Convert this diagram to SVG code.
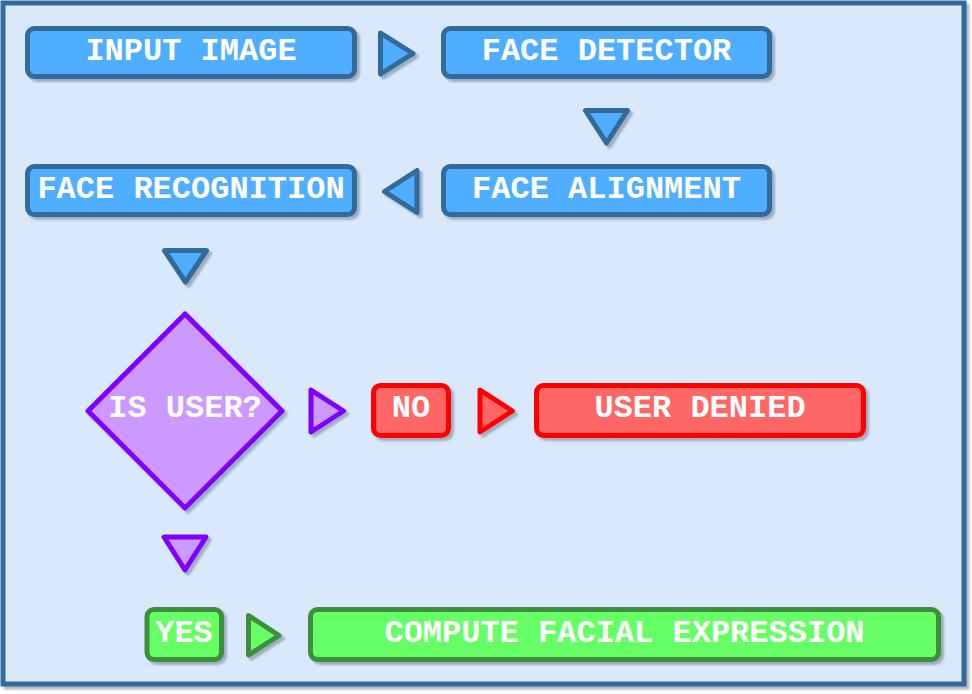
<svg xmlns="http://www.w3.org/2000/svg" width="972" height="694" viewBox="0 0 972 694">
<defs>
<filter id="sh" x="-10%" y="-10%" width="130%" height="140%">
<feDropShadow dx="3" dy="3" stdDeviation="1.2" flood-color="#556677" flood-opacity="0.45"/>
</filter>
<style>
.blue{fill:#4FAEFF;stroke:#316A99;stroke-width:5;stroke-linejoin:round}
.purple{fill:#CC99FF;stroke:#8000FF;stroke-width:5;stroke-linejoin:round}
.red{fill:#FF6666;stroke:#FF0000;stroke-width:5;stroke-linejoin:round}
.green{fill:#66FF66;stroke:#3D8F3A;stroke-width:5;stroke-linejoin:round}
.t{font-family:"Liberation Mono","Courier New",monospace;font-weight:bold;font-size:32px;fill:#FFFFFF;text-anchor:middle}
</style>
</defs>
<rect x="3" y="3" width="961" height="681" fill="#D9E8FA" stroke="#316A99" stroke-width="5" filter="url(#sh)"/>
<g id="input-image"><rect class="blue" x="27.5" y="28.5" width="327" height="48" rx="7" filter="url(#sh)"/><text class="t" x="191" y="60">INPUT IMAGE</text></g>
<g id="face-detector"><rect class="blue" x="443.5" y="28.5" width="326" height="48" rx="7" filter="url(#sh)"/><text class="t" x="606.5" y="60">FACE DETECTOR</text></g>
<g id="face-alignment"><rect class="blue" x="443.5" y="166.5" width="326" height="48" rx="7" filter="url(#sh)"/><text class="t" x="606.5" y="198">FACE ALIGNMENT</text></g>
<g id="face-recognition"><rect class="blue" x="27.5" y="166.5" width="327" height="48" rx="7" filter="url(#sh)"/><text class="t" x="191" y="198">FACE RECOGNITION</text></g>
<g id="is-user"><polygon class="purple" points="185,314 282,411 185,508 88,411" filter="url(#sh)"/><text class="t" x="185" y="417">IS USER?</text></g>
<g id="no"><rect class="red" x="373.5" y="385.5" width="75" height="50" rx="7" filter="url(#sh)"/><text class="t" x="411" y="417">NO</text></g>
<g id="user-denied"><rect class="red" x="536.5" y="385.5" width="327" height="50" rx="7" filter="url(#sh)"/><text class="t" x="700" y="417">USER DENIED</text></g>
<g id="yes"><rect class="green" x="147" y="609.5" width="74.5" height="50" rx="7" filter="url(#sh)"/><text class="t" x="184" y="642">YES</text></g>
<g id="compute"><rect class="green" x="310.5" y="609.5" width="628" height="50" rx="7" filter="url(#sh)"/><text class="t" x="624.5" y="642">COMPUTE FACIAL EXPRESSION</text></g>
<g id="connectors">
<polygon class="blue" points="380.5,33 413,53.5 380.5,74" filter="url(#sh)"/>
<polygon class="blue" points="585.5,110.5 627.5,110.5 606.5,143" filter="url(#sh)"/>
<polygon class="blue" points="384.5,191.5 417,170.5 417,212.5" filter="url(#sh)"/>
<polygon class="blue" points="164.5,250.5 206.5,250.5 185.5,282" filter="url(#sh)"/>
<polygon class="purple" points="311,390 343.5,411 311,432" filter="url(#sh)"/>
<polygon class="red" points="480,390 512.5,411 480,432" filter="url(#sh)"/>
<polygon class="purple" points="164,537 206,537 185,570" filter="url(#sh)"/>
<polygon class="green" points="248.5,615.5 279,635.5 248.5,655" filter="url(#sh)"/>
</g>
</svg>
